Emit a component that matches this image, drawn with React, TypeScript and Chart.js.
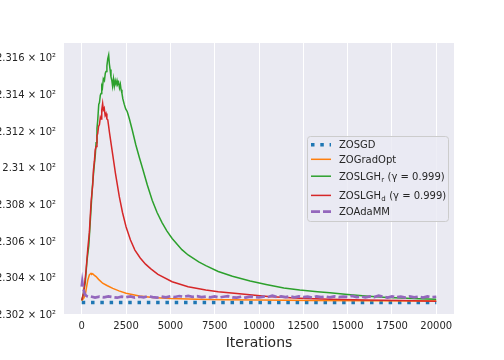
import React, { useEffect, useRef } from "react";
import { Chart, registerables } from "chart.js";

Chart.register(...registerables);

// ---------- data ----------
const xTickValues = [0, 2500, 5000, 7500, 10000, 12500, 15000, 17500, 20000];
const xTickLabels = ["0", "2500", "5000", "7500", "10000", "12500", "15000", "17500", "20000"];
const yTickValues = [230.2, 230.4, 230.6, 230.8, 231.0, 231.2, 231.4, 231.6];
const yTickLabels = [
  "2.302 × 10²",
  "2.304 × 10²",
  "2.306 × 10²",
  "2.308 × 10²",
  "2.31 × 10²",
  "2.312 × 10²",
  "2.314 × 10²",
  "2.316 × 10²",
];

const zosgdIter = [0, 20000];
const zosgdLoss = [230.259, 230.259];

const gradOptIter = [0, 100, 200, 250, 340, 430, 520, 560, 620, 700, 810, 950, 1180, 1450, 1750, 2100, 2500, 3250, 4000, 5000, 6500, 8000, 10000, 13000, 16000, 20000];
const gradOptLoss = [230.27, 230.28, 230.30, 230.33, 230.38, 230.41, 230.418, 230.412, 230.416, 230.408, 230.4, 230.385, 230.364, 230.35, 230.336, 230.322, 230.309, 230.294, 230.286, 230.281, 230.277, 230.274, 230.272, 230.27, 230.268, 230.267];

const slghRIter = [0, 100, 200, 300, 400, 500, 600, 700, 770, 810, 860, 900, 960, 1000, 1050, 1090, 1130, 1170, 1220, 1280, 1330, 1370, 1420, 1470, 1520, 1560, 1600, 1650, 1700, 1740, 1790, 1840, 1890, 1940, 1990, 2030, 2080, 2130, 2180, 2220, 2270, 2320, 2400, 2480, 2570, 2690, 2850, 3050, 3250, 3450, 3700, 3980, 4250, 4530, 4800, 5100, 5650, 6000, 6600, 7000, 7700, 8500, 9500, 10400, 11400, 12300, 13300, 14000, 15000, 16000, 17000, 18000, 19000, 20000];
const slghRLoss = [230.27, 230.31, 230.37, 230.49, 230.57, 230.73, 230.89, 231.0, 231.07, 231.13, 231.21, 231.25, 231.34, 231.35, 231.39, 231.4, 231.44, 231.43, 231.48, 231.47, 231.51, 231.52, 231.55, 231.59, 231.61, 231.56, 231.53, 231.49, 231.47, 231.44, 231.48, 231.44, 231.47, 231.45, 231.47, 231.45, 231.46, 231.43, 231.45, 231.42, 231.40, 231.37, 231.34, 231.315, 231.30, 231.26, 231.2, 231.12, 231.05, 230.985, 230.9, 230.815, 230.75, 230.695, 230.65, 230.608, 230.547, 230.518, 230.48, 230.46, 230.428, 230.402, 230.376, 230.357, 230.338, 230.327, 230.318, 230.312, 230.302, 230.294, 230.288, 230.283, 230.279, 230.276];

const slghDIter = [0, 100, 200, 250, 340, 430, 530, 620, 660, 715, 760, 810, 860, 900, 950, 1000, 1050, 1090, 1130, 1180, 1220, 1270, 1320, 1370, 1420, 1470, 1520, 1560, 1650, 1750, 1900, 2120, 2300, 2500, 2750, 3000, 3300, 3600, 3900, 4300, 5100, 6000, 7000, 7700, 8600, 10500, 12300, 14000, 16000, 18000, 20000];
const slghDLoss = [230.27, 230.31, 230.39, 230.44, 230.55, 230.64, 230.81, 230.9, 230.98, 231.03, 231.09, 231.11, 231.17, 231.18, 231.22, 231.23, 231.27, 231.26, 231.31, 231.345, 231.31, 231.32, 231.28, 231.29, 231.26, 231.255, 231.22, 231.19, 231.13, 231.065, 230.965, 230.836, 230.75, 230.672, 230.6, 230.545, 230.502, 230.468, 230.442, 230.412, 230.372, 230.345, 230.327, 230.318, 230.309, 230.291, 230.282, 230.277, 230.272, 230.269, 230.266];

const adaIter = [0, 30, 60, 100, 150, 200, 300, 400,
  500, 750, 1000, 1250, 1500, 1750, 2000, 2250, 2500, 2750,
  3000, 3250, 3500, 3750, 4000, 4250, 4500, 4750, 5000, 5250,
  5500, 5750, 6000, 6250, 6500, 6750, 7000, 7250, 7500, 7750,
  8000, 8250, 8500, 8750, 9000, 9250, 9500, 9750, 10000, 10250,
  10500, 10750, 11000, 11250, 11500, 11750, 12000, 12250, 12500, 12750,
  13000, 13250, 13500, 13750, 14000, 14250, 14500, 14750, 15000, 15250,
  15500, 15750, 16000, 16250, 16500, 16750, 17000, 17250, 17500, 17750,
  18000, 18250, 18500, 18750, 19000, 19250, 19500, 19750, 20000];
const adaLoss = [230.345, 230.37, 230.35, 230.33, 230.31, 230.30, 230.293, 230.29,
  230.292, 230.286, 230.291, 230.287, 230.292, 230.288, 230.285, 230.291, 230.288, 230.292,
  230.286, 230.290, 230.287, 230.293, 230.288, 230.285, 230.291, 230.287, 230.293, 230.289,
  230.294, 230.290, 230.295, 230.290, 230.293, 230.288, 230.291, 230.287, 230.292, 230.286,
  230.290, 230.293, 230.287, 230.285, 230.290, 230.286, 230.291, 230.288, 230.286, 230.291,
  230.289, 230.296, 230.289, 230.292, 230.288, 230.293, 230.287, 230.292, 230.288, 230.291,
  230.286, 230.292, 230.288, 230.291, 230.287, 230.292, 230.288, 230.291, 230.289, 230.295,
  230.288, 230.291, 230.287, 230.292, 230.288, 230.296, 230.290, 230.286, 230.292, 230.287,
  230.291, 230.286, 230.292, 230.287, 230.291, 230.286, 230.292, 230.288, 230.290];

// legend text parts
const legendMain = ["ZOSGD", "ZOGradOpt", "ZOSLGH", "ZOSLGH", "ZOAdaMM"];
const legendSub = ["", "", "r", "d", ""];
const legendSuffix = ["", "", " (γ = 0.999)", " (γ = 0.999)", ""];

const COLORS = ["#1f77b4", "#ff7f0e", "#2ca02c", "#d62728", "#9467bd"];
const DASHES: number[][] = [[3.5, 5.8], [], [], [], [9, 3]];
const WIDTHS = [3.5, 1.5, 1.5, 1.5, 2.7];

const pts = (xs: number[], ys: number[]) => xs.map((x, i) => ({ x, y: ys[i] }));

const FONT = "DejaVu Sans";
const TEXT = "#262626";

const bgPlugin = {
  id: "bgPlugin",
  beforeDraw(chart: any) {
    const { ctx, chartArea } = chart;
    ctx.save();
    ctx.fillStyle = "#EAEAF2";
    ctx.fillRect(chartArea.left, chartArea.top, chartArea.right - chartArea.left, chartArea.bottom - chartArea.top);
    ctx.restore();
  },
};

const legendPlugin = {
  id: "customLegend",
  afterDraw(chart: any) {
    const ctx: CanvasRenderingContext2D = chart.ctx;
    ctx.save();
    const bx = 307.5, by = 136.5, bw = 141, bh = 85;
    ctx.beginPath();
    (ctx as any).roundRect(bx, by, bw, bh, 3);
    ctx.fillStyle = "rgba(234,234,242,0.8)";
    ctx.fill();
    ctx.strokeStyle = "#cccccc";
    ctx.lineWidth = 1;
    ctx.stroke();
    const rowsY = [144.8, 159.3, 176.2, 195.4, 211.7];
    [0, 1, 2, 3, 4].forEach((k, i) => {
      const y = rowsY[i];
      ctx.beginPath();
      ctx.setLineDash(DASHES[k]);
      ctx.lineCap = "butt";
      ctx.strokeStyle = COLORS[k];
      ctx.lineWidth = WIDTHS[k];
      ctx.moveTo(311, y);
      ctx.lineTo(331, y);
      ctx.stroke();
      ctx.setLineDash([]);
      ctx.fillStyle = TEXT;
      ctx.textBaseline = "alphabetic";
      ctx.textAlign = "left";
      const base = y + 3.6;
      let x = 339;
      ctx.font = `10px "${FONT}"`;
      ctx.fillText(legendMain[k], x, base);
      x += ctx.measureText(legendMain[k]).width;
      if (legendSub[k]) {
        ctx.font = `7px "${FONT}"`;
        ctx.fillText(legendSub[k], x + 0.3, base + 2.2);
        x += ctx.measureText(legendSub[k]).width + 0.6;
      }
      if (legendSuffix[k]) {
        ctx.font = `10px "${FONT}"`;
        ctx.fillText(legendSuffix[k], x, base);
      }
    });
    ctx.restore();
  },
};

export default function App() {
  const ref = useRef<HTMLCanvasElement>(null);
  useEffect(() => {
    if (!ref.current) return;
    const series = [
      { label: "ZOSGD", xs: zosgdIter, ys: zosgdLoss, k: 0, order: 4 },
      { label: "ZOGradOpt", xs: gradOptIter, ys: gradOptLoss, k: 1, order: 3 },
      { label: "ZOSLGHr (γ = 0.999)", xs: slghRIter, ys: slghRLoss, k: 2, order: 2 },
      { label: "ZOSLGHd (γ = 0.999)", xs: slghDIter, ys: slghDLoss, k: 3, order: 1 },
      { label: "ZOAdaMM", xs: adaIter, ys: adaLoss, k: 4, order: 0 },
    ];
    const chart = new Chart(ref.current, {
      type: "line",
      data: {
        datasets: series.map((s) => ({
          label: s.label,
          data: pts(s.xs, s.ys),
          borderColor: COLORS[s.k],
          backgroundColor: COLORS[s.k],
          borderWidth: WIDTHS[s.k],
          borderDash: DASHES[s.k],
          borderCapStyle: "butt",
          pointRadius: 0,
          tension: 0,
          fill: false,
          order: s.order,
        })),
      },
      options: {
        responsive: false,
        animation: false,
        devicePixelRatio: 1,
        layout: { padding: { left: 0, right: 50, top: 43, bottom: 0 } },
        plugins: { legend: { display: false }, tooltip: { enabled: false } },
        scales: {
          x: {
            type: "linear",
            min: -1000,
            max: 21000,
            afterBuildTicks: (s: any) => {
              s.ticks = xTickValues.map((v) => ({ value: v }));
            },
            afterFit: (s: any) => {
              s.height = 46;
            },
            grid: { color: "#ffffff", lineWidth: 1, drawTicks: false },
            border: { display: false },
            ticks: {
              padding: 6,
              autoSkip: false,
              maxRotation: 0,
              color: TEXT,
              font: { family: FONT, size: 10 },
              callback: (_v: any, i: number) => xTickLabels[i],
            },
            title: {
              display: true,
              text: "Iterations",
              color: TEXT,
              font: { family: FONT, size: 14 },
              padding: { top: 0, bottom: 8.6 },
            },
          },
          y: {
            type: "linear",
            min: 230.196,
            max: 231.675,
            afterBuildTicks: (s: any) => {
              s.ticks = yTickValues.map((v) => ({ value: v }));
            },
            afterFit: (s: any) => {
              s.width = 64;
            },
            grid: { display: false, drawTicks: false },
            border: { display: false },
            ticks: {
              padding: 8,
              labelOffset: 2,
              autoSkip: false,
              color: TEXT,
              font: { family: FONT, size: 10 },
              callback: (_v: any, i: number) => yTickLabels[i],
            },
          },
        },
      } as any,
      plugins: [bgPlugin, legendPlugin],
    });
    return () => chart.destroy();
  }, []);
  return (
    <div style={{ position: "absolute", left: 0, top: 0, width: 504, height: 360 }}>
      <canvas ref={ref} width={504} height={360} style={{ display: "block" }} />
    </div>
  );
}
